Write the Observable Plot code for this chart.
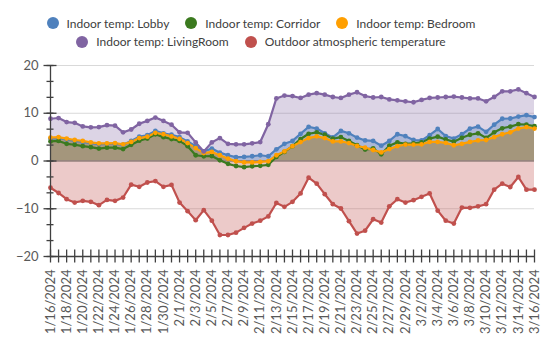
<!DOCTYPE html>
<html><head><meta charset="utf-8">
<script src="https://cdn.jsdelivr.net/npm/d3@7"></script>
<script src="https://cdn.jsdelivr.net/npm/@observablehq/plot@0.6"></script>
<style>
body{margin:0;background:#fff;font-family:Lato,"Liberation Sans",sans-serif;}
#legend{height:52px;box-sizing:border-box;padding-top:14px;padding-right:30px;color:#404040;font-size:12px;}
.row{display:flex;justify-content:center;gap:16px;height:18.5px;align-items:center;}
.item{display:flex;align-items:center;gap:8px;white-space:nowrap;}
.sw{width:12px;height:12px;border-radius:50%;display:inline-block;}
</style></head><body>
<div id="legend"></div>
<div id="chart"></div>
<script>
const dates = [
"1/16/2024","1/17/2024","1/18/2024","1/19/2024","1/20/2024","1/21/2024","1/22/2024","1/23/2024",
"1/24/2024","1/25/2024","1/26/2024","1/27/2024","1/28/2024","1/29/2024","1/30/2024","1/31/2024",
"2/1/2024","2/2/2024","2/3/2024","2/4/2024","2/5/2024","2/6/2024","2/7/2024","2/8/2024",
"2/9/2024","2/10/2024","2/11/2024","2/12/2024","2/13/2024","2/14/2024","2/15/2024","2/16/2024",
"2/17/2024","2/18/2024","2/19/2024","2/20/2024","2/21/2024","2/22/2024","2/23/2024","2/24/2024",
"2/25/2024","2/26/2024","2/27/2024","2/28/2024","2/29/2024","3/1/2024","3/2/2024","3/3/2024",
"3/4/2024","3/5/2024","3/6/2024","3/7/2024","3/8/2024","3/9/2024","3/10/2024","3/11/2024",
"3/12/2024","3/13/2024","3/14/2024","3/15/2024","3/16/2024"];

const lobby = [4.7,4.8,4.5,4.2,4.0,3.75,3.55,3.6,3.6,3.4,4.2,5.1,5.4,6.3,5.8,5.5,
 5.0,4.1,3.1,2.0,2.6,1.75,1.2,0.8,0.85,1.0,1.2,1.0,2.45,3.6,4.2,5.7,
 7.15,6.8,5.8,4.95,6.3,5.8,4.9,4.3,4.2,3.2,4.2,5.6,5.2,4.4,4.3,5.4,
 6.7,5.2,4.7,5.6,6.8,7.2,6.1,7.6,8.85,8.9,9.3,9.6,9.2];
const corridor = [4.1,4.2,3.6,3.4,3.1,2.9,2.6,2.8,2.8,2.5,3.4,4.25,4.7,5.6,5.0,4.6,
 4.2,3.1,1.2,1.0,1.05,0.15,-0.6,-1.05,-1.3,-1.1,-1.0,-0.8,0.85,1.9,3.1,4.6,
 5.7,6.0,5.5,4.7,5.0,4.2,3.3,2.4,2.65,1.4,3.2,3.9,3.6,3.7,3.9,4.7,
 5.1,4.5,4.05,4.85,5.5,5.8,4.85,6.0,6.85,7.2,7.7,7.6,7.3];
const bedroom = [4.9,5.0,4.7,4.4,4.2,3.9,3.7,3.7,3.75,3.5,4.0,4.8,5.1,5.9,5.6,5.15,
 4.65,3.75,2.7,1.65,1.9,1.2,0.5,-0.05,-0.3,-0.3,-0.2,-0.05,1.2,2.0,3.1,3.97,
 4.8,5.16,4.8,4.1,4.1,3.76,3.14,2.8,2.3,1.8,2.5,3.1,3.45,3.45,3.5,4.0,
 4.0,3.8,3.3,3.6,4.0,4.3,4.4,5.0,5.6,6.0,6.8,7.1,6.8];
const livingRoom = [8.85,9.0,8.15,8.0,7.25,7.05,7.1,7.5,7.4,6.0,6.6,7.8,8.4,9.1,8.4,7.6,
 6.0,5.9,3.9,2.0,3.9,4.8,3.6,3.5,3.5,3.7,3.97,7.7,13.1,13.7,13.6,13.2,
 13.9,14.2,13.9,13.4,13.2,13.9,14.4,13.6,13.3,13.4,12.9,12.7,12.5,12.3,12.8,13.2,
 13.3,13.4,13.5,13.3,13.1,13.1,12.5,13.4,14.6,14.6,15.0,14.2,13.4];
const outdoor = [-5.6,-6.7,-8.0,-8.7,-8.35,-8.55,-9.25,-8.15,-8.35,-7.65,-4.95,-5.4,-4.5,-4.2,-5.4,-5.0,
 -8.7,-10.5,-12.4,-10.3,-12.5,-15.5,-15.5,-15.0,-14.0,-13.1,-12.5,-11.6,-8.8,-9.6,-8.55,-6.8,
 -3.5,-4.75,-6.95,-9.05,-9.95,-12.6,-15.2,-14.6,-12.2,-12.9,-9.5,-8.0,-8.7,-8.2,-7.5,-6.8,
 -10.4,-12.5,-13.1,-9.75,-9.8,-9.5,-9.05,-6.0,-4.75,-5.45,-3.35,-6.0,-6.0];

const seriesNames = ["Indoor temp: Lobby","Indoor temp: Corridor","Indoor temp: Bedroom","Indoor temp: LivingRoom","Outdoor atmospheric temperature"];
const seriesColors = ["#4f81bd","#3b7a1f","#ff9f00","#8064a2","#c0504d"];
const legendRows = [[0,1,2],[3,4]];
const yMajor = [20,10,0,-10,-20];
const yGrid = [20,10,-10];

const parse = d3.utcParse("%m/%d/%Y");
const days = dates.map(parse);
const labelDays = days.filter((d,i)=>i%2===0);
const fmt = new Map(dates.map((d,i)=>[+days[i], d]));
const yMinor = d3.range(0,13).map(i=>20 - i*10/3);

const values = [lobby, corridor, bedroom, livingRoom, outdoor];
const series = values.map(v=>v.map((y,i)=>({date: days[i], y})));

// legend
const leg = document.getElementById("legend");
legendRows.forEach(r=>{
  const row = document.createElement("div"); row.className="row";
  r.forEach(k=>{
    const it = document.createElement("div"); it.className="item";
    it.innerHTML = `<span class="sw" style="background:${seriesColors[k]}"></span><span>${seriesNames[k]}</span>`;
    row.appendChild(it);
  });
  leg.appendChild(row);
});

const areaFill = {3:["#8064a2",0.28], 0:["#4f81bd",0.35], 1:["#3b7a1f",0.08], 2:["#a5792f",0.5], 4:["#c0504d",0.3]};
const areaOrder = [3,0,1,2,4];
const lineOrder = [0,1,2,3,4];
const axisColor = "#404040";

const chart = Plot.plot({
  width: 552, height: 290,
  marginTop: 13, marginBottom: 86, marginLeft: 50, marginRight: 18,
  style: {fontFamily: "Lato, 'Liberation Sans', sans-serif", fontSize: "13px", color: "#595959", background: "#fff"},
  x: {type: "utc", domain: [days[0], days[days.length-1]]},
  y: {domain: [-20, 20]},
  marks: [
    Plot.ruleY(yGrid, {stroke: "#d9d9d9", strokeWidth: 1}),
    ...areaOrder.map(k=>Plot.areaY(series[k], {x: "date", y: "y", fill: areaFill[k][0], fillOpacity: areaFill[k][1]})),
    Plot.ruleY([0], {stroke: "#6b5f58", strokeWidth: 1.2}),
    ...lineOrder.map(k=>Plot.lineY(series[k], {x: "date", y: "y", stroke: seriesColors[k], strokeWidth: 2.2})),
    ...lineOrder.map(k=>Plot.dot(series[k], {x: "date", y: "y", fill: seriesColors[k], r: 2.4})),
    Plot.ruleY([-20], {stroke: axisColor, strokeWidth: 1.3}),
    Plot.ruleX([days[0]], {stroke: axisColor, strokeWidth: 1.3}),
    Plot.axisX(days, {tickSize: 13, dy: -6.5, fill: "none", stroke: axisColor, strokeWidth: 1.3, label: null}),
    Plot.axisX(labelDays, {tickSize: 0, tickPadding: 13, tickRotate: -90, fontSize: 13, tickFormat: d=>fmt.get(+d), fill: "#595959", label: null}),
    Plot.axisY(yMinor, {tickSize: 7, dx: 3.5, fill: "none", stroke: axisColor, strokeWidth: 1.3, label: null}),
    Plot.axisY(yMajor, {tickSize: 13, dx: 6.5, fill: "none", stroke: axisColor, strokeWidth: 1.3, label: null}),
    Plot.axisY(yMajor, {tickSize: 0, tickPadding: 12, fontSize: 13, fill: "#595959", label: null})
  ]
});
document.getElementById("chart").appendChild(chart);
</script>
</body></html>
